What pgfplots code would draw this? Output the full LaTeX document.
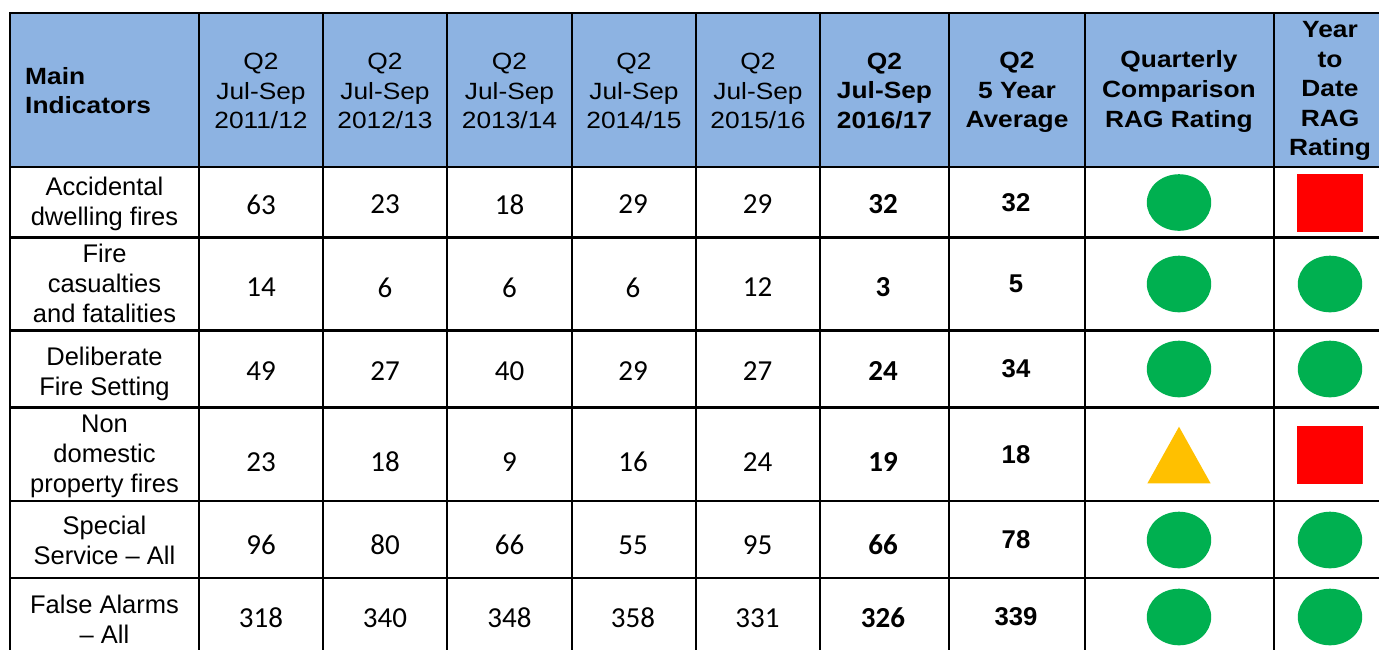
\documentclass[border=0pt]{standalone}
\usepackage{fontspec}
\setmainfont{Liberation Sans}
\newfontfamily\hdrfont[FakeStretch=1.12]{Liberation Sans}
\newfontfamily\calfont{Carlito}
\usepackage{pgfplots}
\usepackage{pgfplotstable}
\pgfplotsset{compat=1.18}
\definecolor{hdrblue}{RGB}{141,179,226}
\definecolor{ragg}{RGB}{0,176,80}
\definecolor{raga}{RGB}{255,192,0}
\definecolor{ragr}{RGB}{255,0,0}

\pgfdeclareplotmark{ragG}{\pgfpathellipse{\pgfpointorigin}{\pgfpoint{32.2pt}{0pt}}{\pgfpoint{0pt}{28.3pt}}\pgfusepathqfill}
\pgfdeclareplotmark{ragA}{\pgfpathmoveto{\pgfpoint{0pt}{28.3pt}}\pgfpathlineto{\pgfpoint{31.6pt}{-28.3pt}}\pgfpathlineto{\pgfpoint{-31.6pt}{-28.3pt}}\pgfpathclose\pgfusepathqfill}
\pgfdeclareplotmark{ragR}{\pgfpathrectangle{\pgfpoint{-33pt}{-29pt}}{\pgfpoint{66pt}{58pt}}\pgfusepathqfill}

% yn: vertical centre of the Calibri numbers, ya: of the bold average and RAG marks
\pgfplotstableread{
yn    ya    a   b   c   d   e   f   g   q t
204.5 202.5 63  23  18  29  29  32  32  G R
287.5 284   14  6   6   6   12  3   5   G G
371   369   49  27  40  29  27  24  34  G G
462   455   23  18  9   16  24  19  18  A R
545   540   96  80  66  55  95  66  78  G G
618   617   318 340 348 358 331 326 339 G G
}\datatab

\begin{document}
\begin{tikzpicture}
\begin{axis}[
  width=1379pt, height=649pt, scale only axis,
  xmin=0, xmax=1379, ymin=0, ymax=649, y dir=reverse,
  hide axis, clip=false,
  numcol/.style={only marks, mark=none, nodes near coords,
    point meta=explicit symbolic,
    nodes near coords style={anchor=center, inner sep=0pt, text=black,
      font=\calfont\fontsize{29}{29}\selectfont}},
]
% header background
\fill[hdrblue] (axis cs:10,13) rectangle (axis cs:1379,167);

% numbers
\addplot[numcol] table[x expr=261,  y=yn, meta=a] {\datatab};
\addplot[numcol] table[x expr=385,  y=yn, meta=b] {\datatab};
\addplot[numcol] table[x expr=509.5,y=yn, meta=c] {\datatab};
\addplot[numcol] table[x expr=633,  y=yn, meta=d] {\datatab};
\addplot[numcol] table[x expr=757.5,y=yn, meta=e] {\datatab};
\addplot[numcol, nodes near coords style={font=\calfont\bfseries\fontsize{29}{29}\selectfont}]
  table[x expr=883, y=yn, meta=f] {\datatab};
\addplot[numcol, nodes near coords style={font=\bfseries\fontsize{25.7}{26}\selectfont}]
  table[x expr=1016, y=ya, meta=g] {\datatab};

% RAG ratings
\addplot[scatter, only marks, scatter src=explicit symbolic,
  scatter/classes={G={mark=ragG, ragg}, A={mark=ragA, raga}, R={mark=ragR, ragr}}]
  table[x expr=1179, y=ya, meta=q] {\datatab};
\addplot[scatter, only marks, scatter src=explicit symbolic,
  scatter/classes={G={mark=ragG, ragg}, A={mark=ragA, raga}, R={mark=ragR, ragr}}]
  table[x expr=1330, y=ya, meta=t] {\datatab};

% grid
\draw[line width=2.6pt, line cap=rect]
  (axis cs:10,13) -- (axis cs:1385,13)
  (axis cs:10,167) -- (axis cs:1385,167)
  (axis cs:10,237.5) -- (axis cs:1385,237.5)
  (axis cs:10,330.5) -- (axis cs:1385,330.5)
  (axis cs:10,407.5) -- (axis cs:1385,407.5)
  (axis cs:10,501) -- (axis cs:1385,501)
  (axis cs:10,578) -- (axis cs:1385,578)
  (axis cs:10,13) -- (axis cs:10,660)
  (axis cs:199,13) -- (axis cs:199,660)
  (axis cs:323,13) -- (axis cs:323,660)
  (axis cs:447,13) -- (axis cs:447,660)
  (axis cs:572,13) -- (axis cs:572,660)
  (axis cs:696,13) -- (axis cs:696,660)
  (axis cs:820,13) -- (axis cs:820,660)
  (axis cs:949,13) -- (axis cs:949,660)
  (axis cs:1085,13) -- (axis cs:1085,660)
  (axis cs:1274,13) -- (axis cs:1274,660);

% header text
\begin{scope}[every node/.style={align=center, inner sep=0pt,
   font=\hdrfont\fontsize{23.5}{29.6}\selectfont}]
\node[anchor=west, align=left, font=\hdrfont\bfseries\fontsize{23.5}{29.6}\selectfont] at (axis cs:25,90.5) {Main\\Indicators};
\node at (axis cs:261,91) {Q2\\Jul-Sep\\2011/12};
\node at (axis cs:385,91) {Q2\\Jul-Sep\\2012/13};
\node at (axis cs:509.5,91) {Q2\\Jul-Sep\\2013/14};
\node at (axis cs:634,91) {Q2\\Jul-Sep\\2014/15};
\node at (axis cs:758,91) {Q2\\Jul-Sep\\2015/16};
\node[font=\hdrfont\bfseries\fontsize{23.5}{29.6}\selectfont] at (axis cs:884.5,91) {Q2\\Jul-Sep\\2016/17};
\node[font=\hdrfont\bfseries\fontsize{23.5}{29.6}\selectfont] at (axis cs:1017,92.5) {Q2\\5 Year\\Average};
\node[font=\hdrfont\bfseries\fontsize{23.5}{29.6}\selectfont] at (axis cs:1179,91.5) {Quarterly\\Comparison\\RAG Rating};
\node[font=\hdrfont\bfseries\fontsize{23.5}{29.6}\selectfont] at (axis cs:1330,91) {Year\\to\\Date\\RAG\\Rating};
\end{scope}

% row labels
\begin{scope}[every node/.style={align=center, inner sep=0pt,
   font=\fontsize{25.5}{30}\selectfont}]
\node at (axis cs:104.5,203.5) {Accidental\\dwelling fires};
\node at (axis cs:104.5,283.5) {Fire\\casualties\\and fatalities};
\node at (axis cs:104.5,373.5) {Deliberate\\Fire Setting};
\node at (axis cs:104.5,456) {Non\\domestic\\property fires};
\node at (axis cs:104.5,540) {Special\\Service – All};
\node at (axis cs:104.5,619) {False Alarms\\– All};
\end{scope}
\end{axis}
\pgfresetboundingbox
\path[use as bounding box] (current axis.south west) rectangle (current axis.north east);
\end{tikzpicture}
\end{document}
